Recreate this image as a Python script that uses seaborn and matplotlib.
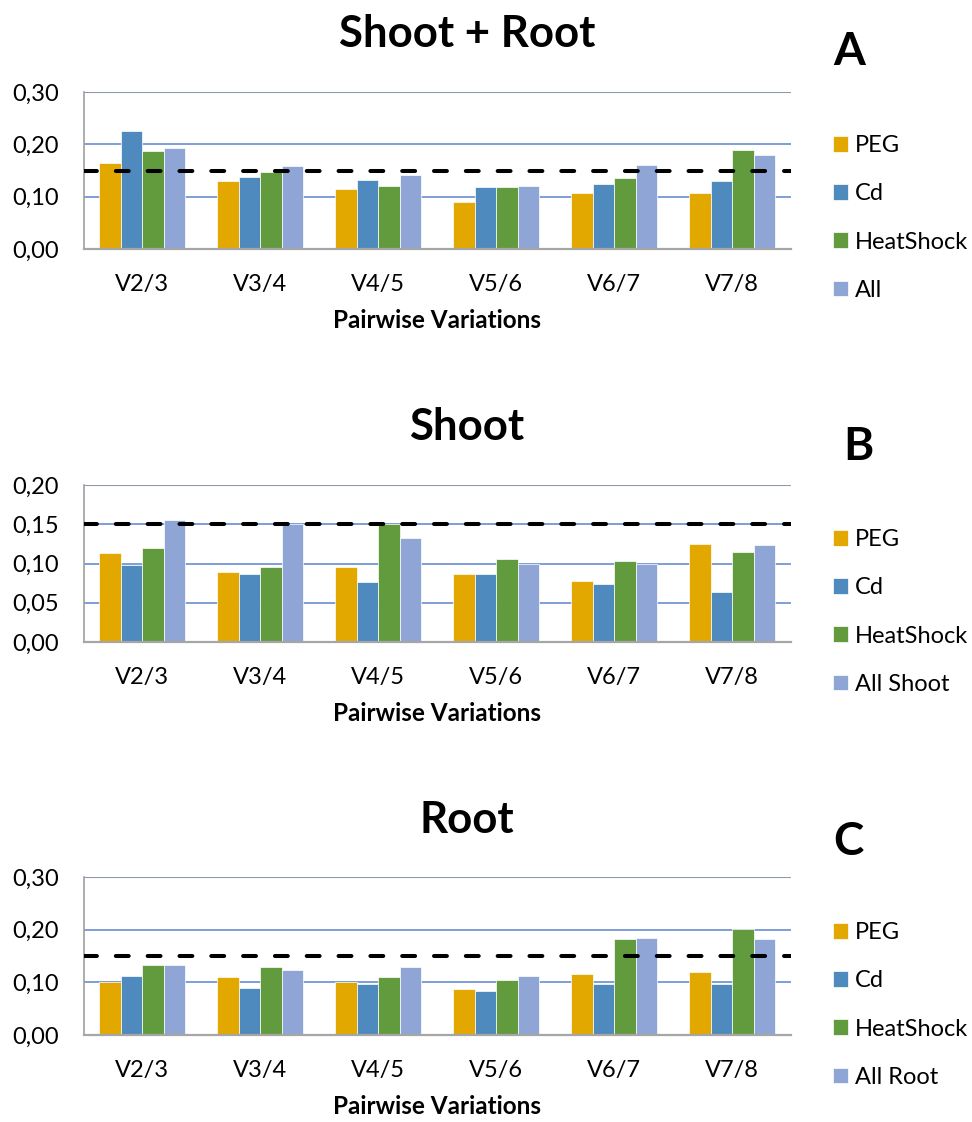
import matplotlib
matplotlib.use("Agg")
import matplotlib.pyplot as plt
from matplotlib.ticker import FixedLocator, FuncFormatter
import seaborn as sns
import pandas as pd

# Pairwise variation categories
pairs = ["V2/3", "V3/4", "V4/5", "V5/6", "V6/7", "V7/8"]

# Stress conditions (last entry differs per panel)
stress_a = ["PEG", "Cd", "HeatShock", "All"]
stress_b = ["PEG", "Cd", "HeatShock", "All Shoot"]
stress_c = ["PEG", "Cd", "HeatShock", "All Root"]

# Panel A: Shoot + Root
a_peg = [0.164, 0.129, 0.114, 0.090, 0.107, 0.107]
a_cd = [0.226, 0.138, 0.132, 0.119, 0.125, 0.129]
a_heat = [0.187, 0.147, 0.120, 0.119, 0.135, 0.190]
a_all = [0.193, 0.158, 0.141, 0.120, 0.160, 0.179]

# Panel B: Shoot
b_peg = [0.114, 0.089, 0.095, 0.087, 0.078, 0.125]
b_cd = [0.098, 0.087, 0.077, 0.086, 0.074, 0.064]
b_heat = [0.120, 0.096, 0.150, 0.106, 0.103, 0.115]
b_all = [0.155, 0.150, 0.132, 0.099, 0.100, 0.123]

# Panel C: Root
c_peg = [0.100, 0.110, 0.100, 0.087, 0.115, 0.119]
c_cd = [0.112, 0.090, 0.096, 0.084, 0.096, 0.096]
c_heat = [0.132, 0.130, 0.110, 0.105, 0.183, 0.201]
c_all = [0.133, 0.123, 0.130, 0.112, 0.185, 0.183]

# Cut-off value for pairwise variation
cutoff = 0.15

colors = ["#E2A800", "#4F8ABE", "#629A3E", "#8FA5D5"]

sns.set_theme(style="white")
plt.rcParams["font.family"] = ["Lato", "DejaVu Sans"]
plt.rcParams["text.color"] = "black"
plt.rcParams["axes.labelcolor"] = "black"

W, H = 972, 1122
fig = plt.figure(figsize=(W / 100, H / 100), dpi=100)


def long_frame(names, series):
    rows = []
    for name, vals in zip(names, series):
        for p, v in zip(pairs, vals):
            rows.append({"pair": p, "stress": name, "value": v})
    return pd.DataFrame(rows)


panels = [
    dict(title="Shoot + Root", letter="A", names=stress_a,
         series=[a_peg, a_cd, a_heat, a_all], ymax=0.30, step=0.10,
         top=92, bottom=249, title_base=47, letter_xy=(849, 65), legend_y=218),
    dict(title="Shoot", letter="B", names=stress_b,
         series=[b_peg, b_cd, b_heat, b_all], ymax=0.20, step=0.05,
         top=485, bottom=642, title_base=440, letter_xy=(858, 460), legend_y=612),
    dict(title="Root", letter="C", names=stress_c,
         series=[c_peg, c_cd, c_heat, c_all], ymax=0.30, step=0.10,
         top=877, bottom=1035, title_base=833, letter_xy=(848, 855), legend_y=1005),
]

left_px, right_px = 83.5, 791

for pnl in panels:
    ax = fig.add_axes([left_px / W, 1 - pnl["bottom"] / H,
                       (right_px - left_px) / W, (pnl["bottom"] - pnl["top"]) / H])
    df = long_frame(pnl["names"], pnl["series"])
    sns.barplot(data=df, x="pair", y="value", hue="stress", palette=colors,
                width=0.73, gap=0, saturation=1, errorbar=None,
                edgecolor="#FFFFFF", linewidth=0.5, ax=ax, zorder=3)

    ax.set_ylim(0, pnl["ymax"])
    n = int(round(pnl["ymax"] / pnl["step"]))
    ticks = [i * pnl["step"] for i in range(n + 1)]
    ax.yaxis.set_major_locator(FixedLocator(ticks))
    ax.yaxis.set_major_formatter(FuncFormatter(lambda v, _: f"{v:.2f}".replace(".", ",")))

    # horizontal gridlines
    for t in ticks[1:-1]:
        ax.axhline(t, color="#5B84CE", lw=1.1, zorder=1)
    ax.axhline(ticks[-1], color="#8C98AC", lw=1.5, zorder=1)

    ax.axhline(cutoff, color="black", lw=2.9, dashes=(3.2, 4.7),
               dash_capstyle="round", zorder=5)

    for s in ["top", "right"]:
        ax.spines[s].set_visible(False)
    ax.spines["left"].set_color("#A0A0A0")
    ax.spines["left"].set_linewidth(1.2)
    ax.spines["bottom"].set_color("#A6A6A6")
    ax.spines["bottom"].set_linewidth(1.6)
    ax.spines["bottom"].set_zorder(6)

    ax.tick_params(axis="both", length=0, labelsize=17, colors="black")
    ax.tick_params(axis="y", pad=18)
    ax.tick_params(axis="x", pad=18)
    ax.set_ylabel("")
    ax.set_xlabel("Pairwise Variations", fontsize=17.5, fontweight="bold",
                  labelpad=10, color="black")

    sns.move_legend(ax, "center left",
                    bbox_to_anchor=(833 / W, 1 - pnl["legend_y"] / H),
                    bbox_transform=fig.transFigure, frameon=False, title=None,
                    fontsize=17, labelspacing=1.15, handlelength=0.64,
                    handleheight=0.64, handletextpad=0.3, borderpad=0,
                    borderaxespad=0, labelcolor="black")

    fig.text(467 / W, 1 - pnl["title_base"] / H, pnl["title"], ha="center",
             va="baseline", fontsize=31.5, fontweight="bold", color="black")
    lx, ly = pnl["letter_xy"]
    fig.text(lx / W, 1 - ly / H, pnl["letter"], ha="center", va="baseline",
             fontsize=33, fontweight="bold", color="black")

fig.savefig("out.png", dpi=100)
